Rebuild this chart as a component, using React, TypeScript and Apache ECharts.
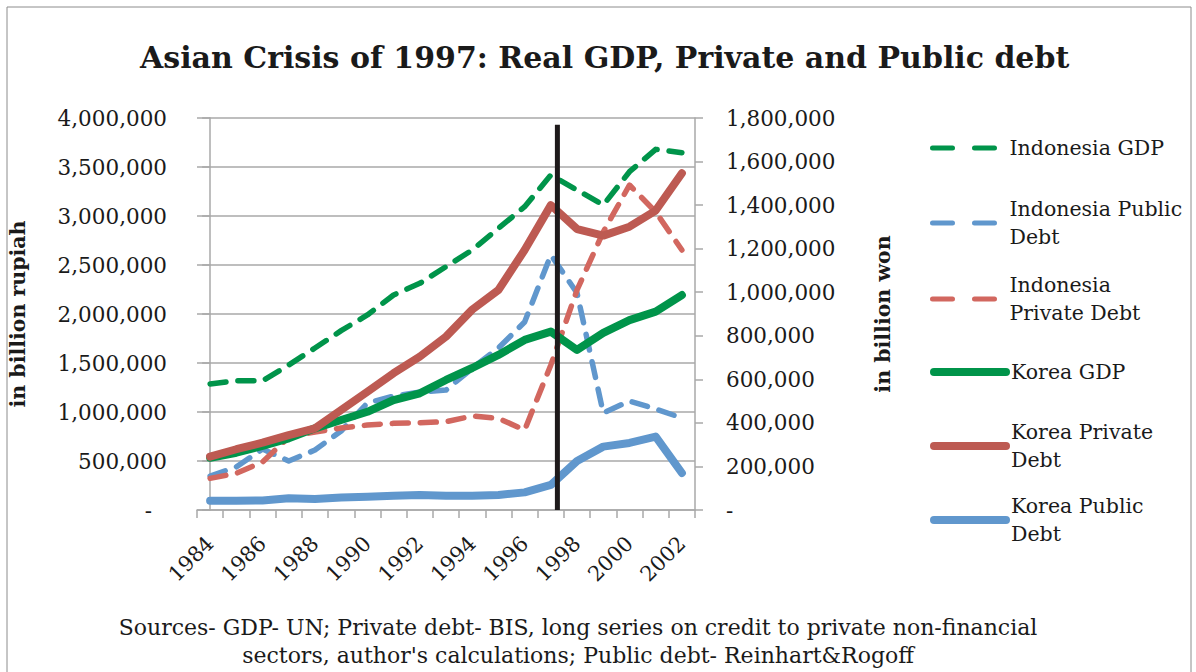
import React, { useEffect, useRef } from 'react';
import * as echarts from 'echarts';

// ---------- data ----------
const years = ['1984', '1985', '1986', '1987', '1988', '1989', '1990', '1991', '1992', '1993', '1994', '1995', '1996', '1997', '1998', '1999', '2000', '2001', '2002'];

// billion rupiah (left axis)
const indonesiaGdp = [1286000, 1320000, 1318000, 1480000, 1653000, 1830000, 1990000, 2194000, 2313000, 2483000, 2653000, 2874000, 3095000, 3418000, 3265000, 3112000, 3452000, 3680000, 3646000];
const indonesiaPublicDebt = [347000, 439000, 622000, 500000, 612000, 806000, 1092000, 1163000, 1204000, 1224000, 1446000, 1653000, 1918000, 2602000, 2214000, 990000, 1112000, 1031000, 939000];
const indonesiaPrivateDebt = [323000, 374000, 490000, 745000, 796000, 837000, 867000, 884000, 891000, 901000, 959000, 935000, 816000, 1480000, 2245000, 2837000, 3316000, 3041000, 2653000];

// billion won (right axis)
const koreaGdp = [240000, 263000, 294000, 329000, 375000, 413000, 451000, 505000, 536000, 597000, 652000, 712000, 781000, 819000, 735000, 813000, 872000, 911000, 987000];
const koreaPrivateDebt = [245000, 279000, 309000, 344000, 375000, 459000, 543000, 628000, 704000, 796000, 920000, 1010000, 1194000, 1400000, 1290000, 1260000, 1301000, 1375000, 1546000];
const koreaPublicDebt = [43000, 43000, 44000, 54000, 51000, 57000, 61000, 65000, 69000, 65000, 65000, 69000, 81000, 115000, 225000, 291000, 308000, 337000, 170000];

// axis scales
const leftAxisMax = 4000000;
const leftAxisStep = 500000;
const rightAxisMax = 1800000;
const rightAxisStep = 200000;

// crisis marker (mid 1997)
const crisisYear = '1997';
const crisisOffset = 0.25;
const crisisTop = 3930000;

const seriesNames = ['Indonesia GDP', 'Indonesia Public Debt', 'Indonesia Private Debt', 'Korea GDP', 'Korea Private Debt', 'Korea Public Debt'];
const legendLabels = ['Indonesia GDP', 'Indonesia Public\nDebt', 'Indonesia\nPrivate Debt', 'Korea GDP', 'Korea Private\nDebt', 'Korea Public\nDebt'];

const titleText = 'Asian Crisis of 1997: Real GDP, Private and Public debt';
const sourceText = "Sources- GDP- UN; Private debt- BIS, long series on credit to private non-financial\nsectors, author's calculations; Public debt- Reinhart&Rogoff";

// ---------- styles ----------
const SERIF = '"DejaVu Serif", "Liberation Serif", serif';
const TEXT = '#1a1a1a';
const GRID = '#a9a9a9';
const GREEN = '#00944a';
const BLUE = '#6097cd';
const RED_DARK = '#bd5a52';
const RED_LIGHT = '#d2675f';

function withCommas(v: number): string {
  return String(v).replace(/\B(?=(\d{3})+(?!\d))/g, ',');
}

export default function App() {
  const ref = useRef<HTMLDivElement>(null);

  useEffect(() => {
    if (!ref.current) return;
    const chart = echarts.init(ref.current, undefined, { renderer: 'svg' });

    const dashed = (color: string) => ({ color, width: 5.5, type: [16, 12] as number[], cap: 'round', join: 'round' });
    const solid = (color: string) => ({ color, width: 8, type: 'solid', cap: 'round', join: 'round' });

    const seriesColors = [GREEN, BLUE, RED_LIGHT, GREEN, RED_DARK, BLUE];
    const seriesData = [indonesiaGdp, indonesiaPublicDebt, indonesiaPrivateDebt, koreaGdp, koreaPrivateDebt, koreaPublicDebt];
    const isDashed = [true, true, true, false, false, false];
    const yIdx = [0, 0, 0, 1, 1, 1];

    const legendIconCenters = [148, 223, 299, 372, 446, 520];

    const legends = seriesNames.map((name, i) => {
      const twoLine = legendLabels[i].indexOf('\n') >= 0;
      const top = twoLine ? legendIconCenters[i] - 42 : legendIconCenters[i] - 14;
      return {
        show: true,
        left: 930,
        top,
        orient: 'horizontal',
        selectedMode: false,
        itemWidth: 72,
        itemHeight: 14,
        itemGap: 0,
        padding: 0,
        data: [name],
        formatter: () => legendLabels[i],
        itemStyle: { opacity: 0, borderWidth: 0 },
        lineStyle: isDashed[i]
          ? { width: 5, type: [20, 22], cap: 'round' }
          : { width: 8, type: 'solid', cap: 'round' },
        textStyle: {
          fontFamily: SERIF,
          fontSize: 20.5,
          color: TEXT,
          lineHeight: 28,
          padding: twoLine ? [28, 0, 0, 0] : 0,
        },
      };
    });

    const series: any[] = seriesNames.map((name, i) => ({
      name,
      type: 'line',
      xAxisIndex: 0,
      yAxisIndex: yIdx[i],
      data: seriesData[i],
      symbol: 'none',
      showSymbol: false,
      itemStyle: { color: seriesColors[i] },
      lineStyle: isDashed[i] ? dashed(seriesColors[i]) : solid(seriesColors[i]),
      z: 2 + i,
    }));

    const crisisX = years.indexOf(crisisYear) + crisisOffset;
    series.push({
      name: 'crisis',
      type: 'line',
      xAxisIndex: 1,
      yAxisIndex: 0,
      data: [[crisisX, 0], [crisisX, crisisTop]],
      symbol: 'none',
      silent: true,
      lineStyle: { color: '#1e1a1b', width: 5, cap: 'butt' },
      z: 20,
    });

    const option: any = {
      animation: false,
      backgroundColor: '#ffffff',
      title: {
        text: titleText,
        left: 140,
        top: 42,
        padding: 0,
        textStyle: { fontFamily: SERIF, fontWeight: 'bold', fontSize: 30, color: TEXT },
      },
      legend: legends,
      grid: { left: 197, right: 501, top: 118, bottom: 162, containLabel: false, outerBoundsMode: 'none' },
      xAxis: [
        {
          type: 'category',
          data: years,
          boundaryGap: true,
          axisLine: { show: true, lineStyle: { color: GRID, width: 1.5 } },
          axisTick: { show: true, interval: 0, length: 8, lineStyle: { color: GRID, width: 1.5 } },
          axisLabel: {
            interval: 1,
            rotate: 45,
            margin: 30,
            fontFamily: SERIF,
            fontSize: 21,
            color: TEXT,
          },
          splitLine: { show: false },
        },
        {
          type: 'value',
          min: -0.5,
          max: years.length - 0.5,
          show: false,
          splitLine: { show: false },
        },
      ],
      yAxis: [
        {
          type: 'value',
          min: 0,
          max: leftAxisMax,
          interval: leftAxisStep,
          name: 'in billion rupiah',
          nameLocation: 'middle',
          nameRotate: 90,
          nameGap: 169,
          nameTextStyle: { fontFamily: SERIF, fontWeight: 'bold', fontSize: 20.5, color: TEXT },
          axisLine: { show: true, lineStyle: { color: GRID, width: 1.5 } },
          axisTick: { show: true, length: 8, lineStyle: { color: GRID, width: 1.5 } },
          axisLabel: {
            margin: 30,
            fontFamily: SERIF,
            fontSize: 21.5,
            color: TEXT,
            formatter: (v: number) => (v === 0 ? '{z|-}' : withCommas(v)),
            rich: { z: { fontFamily: SERIF, fontSize: 21.5, color: TEXT, padding: [0, 15, 0, 0] } },
          },
          splitLine: { show: true, lineStyle: { color: GRID, width: 1.5 } },
        },
        {
          type: 'value',
          min: 0,
          max: rightAxisMax,
          interval: rightAxisStep,
          position: 'right',
          name: 'in billion won',
          nameLocation: 'middle',
          nameRotate: 90,
          nameGap: 177,
          nameTextStyle: { fontFamily: SERIF, fontWeight: 'bold', fontSize: 20.5, color: TEXT },
          axisLine: { show: true, lineStyle: { color: GRID, width: 1.5 } },
          axisTick: { show: true, length: 8, lineStyle: { color: GRID, width: 1.5 } },
          axisLabel: {
            margin: 31,
            fontFamily: SERIF,
            fontSize: 21.5,
            color: TEXT,
            formatter: (v: number) => (v === 0 ? '-' : withCommas(v)),
          },
          splitLine: { show: false },
        },
      ],
      graphic: [
        {
          type: 'rect',
          silent: true,
          shape: { x: 7, y: 7, width: 1184, height: 700 },
          style: { fill: 'none', stroke: '#8c8c8c', lineWidth: 1 },
          z: -10,
        },
        {
          type: 'text',
          x: 578,
          y: 641,
          silent: true,
          style: {
            text: sourceText,
            textAlign: 'center',
            textVerticalAlign: 'middle',
            fontFamily: SERIF,
            fontSize: 22,
            lineHeight: 28,
            fill: TEXT,
          },
        },
      ],
      series,
    };

    chart.setOption(option);
    return () => chart.dispose();
  }, []);

  return (
    <div
      ref={ref}
      style={{ position: 'fixed', left: 0, top: 0, width: 1196, height: 672, background: '#fff' }}
    />
  );
}
